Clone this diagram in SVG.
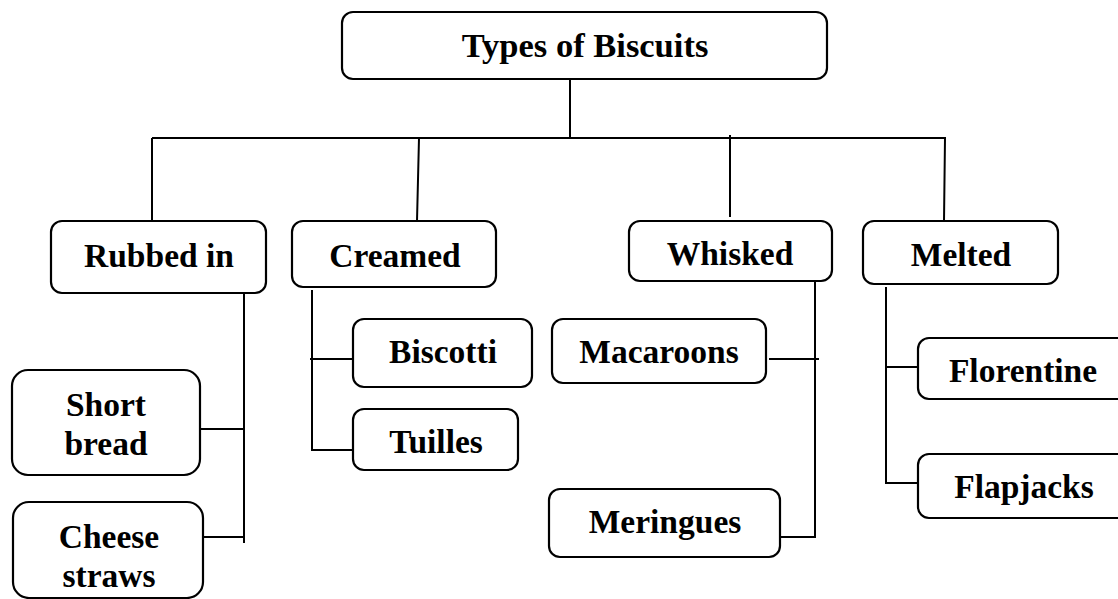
<svg xmlns="http://www.w3.org/2000/svg" width="1118" height="599" viewBox="0 0 1118 599">
<style>
.box{fill:#fff;stroke:#000;stroke-width:2.2}
.ln{fill:none;stroke:#000;stroke-width:2}
text{font-family:"Liberation Serif","Times New Roman",serif;font-weight:bold;font-size:33.5px;fill:#000;text-anchor:middle}
</style>
<rect width="1118" height="599" fill="#fff"/>
<g id="connectors">
<path class="ln" d="M570,79 V138 M152,138 H946 M152,138 V221 M419,138 L417,221 M730,135 V217 M945,138 L944,221"/>
<path class="ln" d="M244,290 V543 M200,429 H244 M203,537 H244"/>
<path class="ln" d="M312,290 V450 H353 M310,359 H353"/>
<path class="ln" d="M815,280 V537 H780 M769,359 H819"/>
<path class="ln" d="M886,287 V483 H918 M886,367 H918"/>
</g>
<g id="title"><rect class="box" x="342" y="12" width="485" height="67" rx="11"/><text x="585" y="57" style="font-size:34.5px">Types of Biscuits</text></g>
<g id="rubbed"><rect class="box" x="51" y="221" width="215" height="72" rx="11"/><text x="159" y="267">Rubbed in</text></g>
<g id="creamed"><rect class="box" x="292" y="221" width="204" height="66" rx="11"/><text x="395" y="267">Creamed</text></g>
<g id="whisked"><rect class="box" x="629" y="221" width="203" height="60" rx="11"/><text x="730" y="265">Whisked</text></g>
<g id="melted"><rect class="box" x="863" y="221" width="195" height="63" rx="11"/><text x="961" y="266">Melted</text></g>
<g id="shortbread"><rect class="box" x="12" y="370" width="188" height="105" rx="16"/><text x="106" y="416">Short</text><text x="106" y="455">bread</text></g>
<g id="cheese"><rect class="box" x="13" y="502" width="190" height="96" rx="16"/><text x="109" y="548">Cheese</text><text x="109" y="587">straws</text></g>
<g id="biscotti"><rect class="box" x="353" y="319" width="179" height="68" rx="11"/><text x="443" y="363">Biscotti</text></g>
<g id="tuilles"><rect class="box" x="353" y="409" width="165" height="61" rx="11"/><text x="436" y="453">Tuilles</text></g>
<g id="macaroons"><rect class="box" x="552" y="319" width="214" height="64" rx="11"/><text x="659" y="363">Macaroons</text></g>
<g id="meringues"><rect class="box" x="549" y="489" width="231" height="68" rx="11"/><text x="665" y="533">Meringues</text></g>
<g id="florentine"><rect class="box" x="918" y="338" width="215" height="61" rx="11"/><text x="1023" y="382">Florentine</text></g>
<g id="flapjacks"><rect class="box" x="918" y="454" width="215" height="64" rx="11"/><text x="1024" y="498">Flapjacks</text></g>
</svg>
